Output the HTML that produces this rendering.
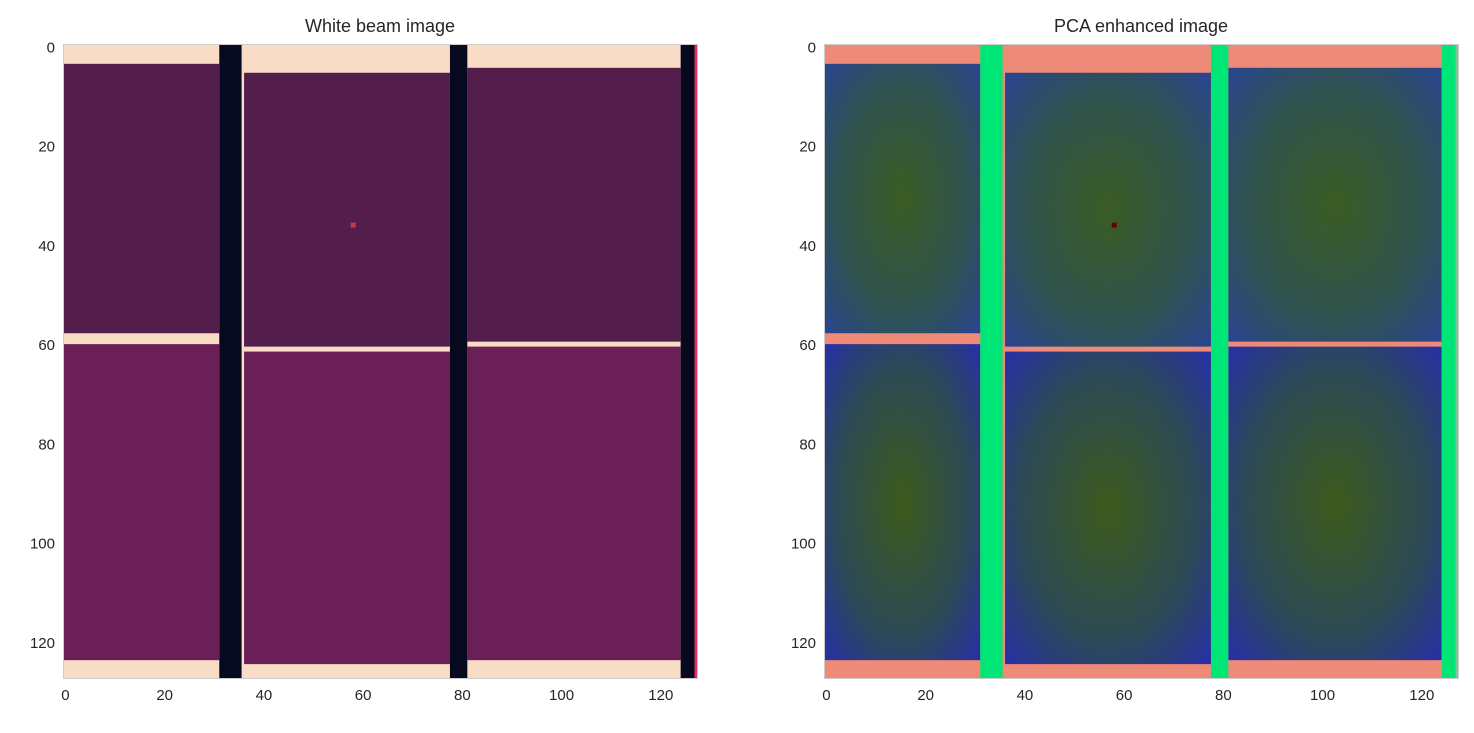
<!DOCTYPE html>
<html><head><meta charset="utf-8"><style>
body{margin:0;background:#fff;font-family:"Liberation Sans",sans-serif}
svg text{font-family:"Liberation Sans",sans-serif;fill:#262626}
</style></head><body>
<svg id="fig" width="1474" height="728"></svg>
<script>
const ticks=[0,20,40,60,80,100,120];
const titles=["White beam image","PCA enhanced image"];
// panel regions in image pixels: [x0,x1,y0,y1]
const upperPanels=[[0,31.5,4,58.3],[36.5,78,5.8,61],[81.5,124.5,4.8,60]];
const lowerPanels=[[0,31.5,60.5,124.2],[36.5,78,62,125],[81.5,124.5,61,124.2]];
const gaps=[[31.5,36],[78,81.5],[124.5,127.3]];
const hotPixel=[58,36];
const N=128,S=635/128;
const svg=document.getElementById('fig');
const NS='http://www.w3.org/2000/svg';
function mk(t,a,p){const e=document.createElementNS(NS,t);for(const k in a)e.setAttribute(k,a[k]);(p||svg).appendChild(e);return e;}
const defs=mk('defs',{});
const rg=mk('radialGradient',{id:'pg',cx:'50%',cy:'50%',r:'70%'},defs);
mk('stop',{offset:'0%','stop-color':'#3a5c22'},rg);
mk('stop',{offset:'60%','stop-color':'#2f5250'},rg);
mk('stop',{offset:'100%','stop-color':'#2a4590'},rg);
const rg2=mk('radialGradient',{id:'pg2',cx:'50%',cy:'50%',r:'70%'},defs);
mk('stop',{offset:'0%','stop-color':'#3c5a1a'},rg2);
mk('stop',{offset:'60%','stop-color':'#2d4a55'},rg2);
mk('stop',{offset:'100%','stop-color':'#2630a5'},rg2);
const axesX=[63,824],Y0=44;
[0,1].forEach(i=>{
  const X0=axesX[i];
  const g=mk('g',{});
  
  
  const xs=v=>X0+v*S, ys=v=>Y0+v*S;
  mk('rect',{x:X0,y:Y0,width:635,height:635,fill:i?'#ee8a78':'#f8dcc6'},g);
  upperPanels.forEach(p=>{const r=mk('rect',{x:xs(p[0]),y:ys(p[2]),width:(p[1]-p[0])*S,height:(p[3]-p[2])*S,fill:i?'url(#pg)':'#541e4c'},g);});
  lowerPanels.forEach(p=>{const r=mk('rect',{x:xs(p[0]),y:ys(p[2]),width:(p[1]-p[0])*S,height:(p[3]-p[2])*S,fill:i?'url(#pg2)':'#6a1f56'},g);});
  gaps.forEach(p=>{const r=mk('rect',{x:xs(p[0]),y:Y0,width:(p[1]-p[0])*S,height:635,fill:i?'#00e676':'#070a1e'},g);});
  mk('rect',{x:xs(127.3),y:Y0,width:(N-127.3)*S,height:635,fill:i?'#7cc890':'#e0305a'},g);
  mk('rect',{x:xs(hotPixel[0]),y:ys(hotPixel[1]),width:S,height:S,fill:i?'#6a0000':'#d83050'},g);
  mk('rect',{x:X0+0.5,y:Y0+0.5,width:634,height:634,fill:'none',stroke:'#cccccc','stroke-width':1},g);
  ticks.forEach(t=>{
    const tx=mk('text',{x:xs(t+0.5),y:Y0+635+21,'font-size':15,'text-anchor':'middle'},g);tx.textContent=t;
    
    const ty=mk('text',{x:X0-8,y:ys(t+0.5)+6,'font-size':15,'text-anchor':'end'},g);ty.textContent=t;
    
  });
  const ti=mk('text',{x:X0+317,y:32,'font-size':18,'text-anchor':'middle'},g);ti.textContent=titles[i];
  
});
</script>
</body></html>
